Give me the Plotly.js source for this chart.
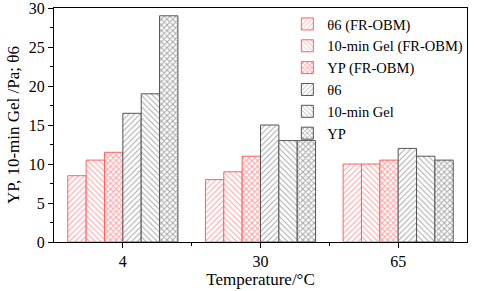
<!DOCTYPE html>
<html><head><meta charset="utf-8">
<script src="https://cdn.plot.ly/plotly-3.0.1.min.js"></script>
<style>body{margin:0;background:#fff}#c{width:480px;height:291px}</style>
</head><body><div id="c"></div>
<script>
const categories = ['4', '30', '65'];
const seriesNames = ['θ6 (FR-OBM)', '10-min Gel (FR-OBM)', 'YP (FR-OBM)', 'θ6', '10-min Gel', 'YP'];
const theta6FR = [8.5, 8, 10];
const gel10FR = [10.5, 9, 10];
const ypFR = [11.5, 11, 10.5];
const theta6 = [16.5, 15, 12];
const gel10 = [19, 13, 11];
const yp = [29, 13, 10.5];

const values = [theta6FR, gel10FR, ypFR, theta6, gel10, yp];
const shapes = ['/', '\\', 'x', '/', '\\', 'x'];
const xpos = categories.map((c, i) => i);
const traces = values.map((v, k) => {
  const red = k < 3;
  return {
    type: 'bar', x: xpos, y: v, name: seriesNames[k],
    marker: {
      color: '#ffffff',
      line: {color: red ? '#ff6060' : '#555555', width: 1},
      pattern: {shape: shapes[k], fgcolor: red ? '#ffa0a0' : '#a8a8a8', bgcolor: '#ffffff', size: 4, solidity: shapes[k] === 'x' ? 0.45 : 0.25}
    }
  };
});
const FONT = '"Liberation Serif", "Times New Roman", serif';
const layout = {
  width: 480, height: 291,
  margin: {l: 54, r: 13, t: 8, b: 49},
  barmode: 'group', bargap: 0.2, bargroupgap: 0,
  paper_bgcolor: '#fff', plot_bgcolor: '#fff',
  font: {family: FONT, color: '#000', size: 16},
  xaxis: {
    range: [-0.5, 2.5], tickvals: xpos, ticktext: categories,
    showline: true, linecolor: '#000', linewidth: 1, mirror: true,
    ticks: 'outside', ticklen: 5, tickcolor: '#000', showgrid: false, zeroline: false,
    minor: {tickvals: [0.5, 1.5], ticks: 'outside', ticklen: 3, tickcolor: '#000', showgrid: false},
    title: {text: 'Temperature/°C', font: {family: FONT, size: 17}, standoff: 3},
    tickfont: {family: FONT, size: 16}, ticklabeloverflow: 'allow'
  },
  yaxis: {
    range: [0, 30], dtick: 5,
    showline: true, linecolor: '#000', linewidth: 1, mirror: true,
    ticks: 'outside', ticklen: 5, tickcolor: '#000', showgrid: false, zeroline: false,
    minor: {dtick: 2.5, ticks: 'outside', ticklen: 3, tickcolor: '#000', showgrid: false},
    title: {text: 'YP, 10-min Gel /Pa; θ6', font: {family: FONT, size: 17}, standoff: 4},
    tickfont: {family: FONT, size: 16}, ticklabeloverflow: 'allow'
  },
  legend: {x: 0.565, y: 1.0, xanchor: 'left', yanchor: 'top', bgcolor: 'rgba(0,0,0,0)', font: {family: FONT, size: 14.5}, tracegroupgap: 0, itemwidth: 30},
  showlegend: true
};
Plotly.newPlot('c', traces, layout, {displayModeBar: false, staticPlot: true});
</script></body></html>
